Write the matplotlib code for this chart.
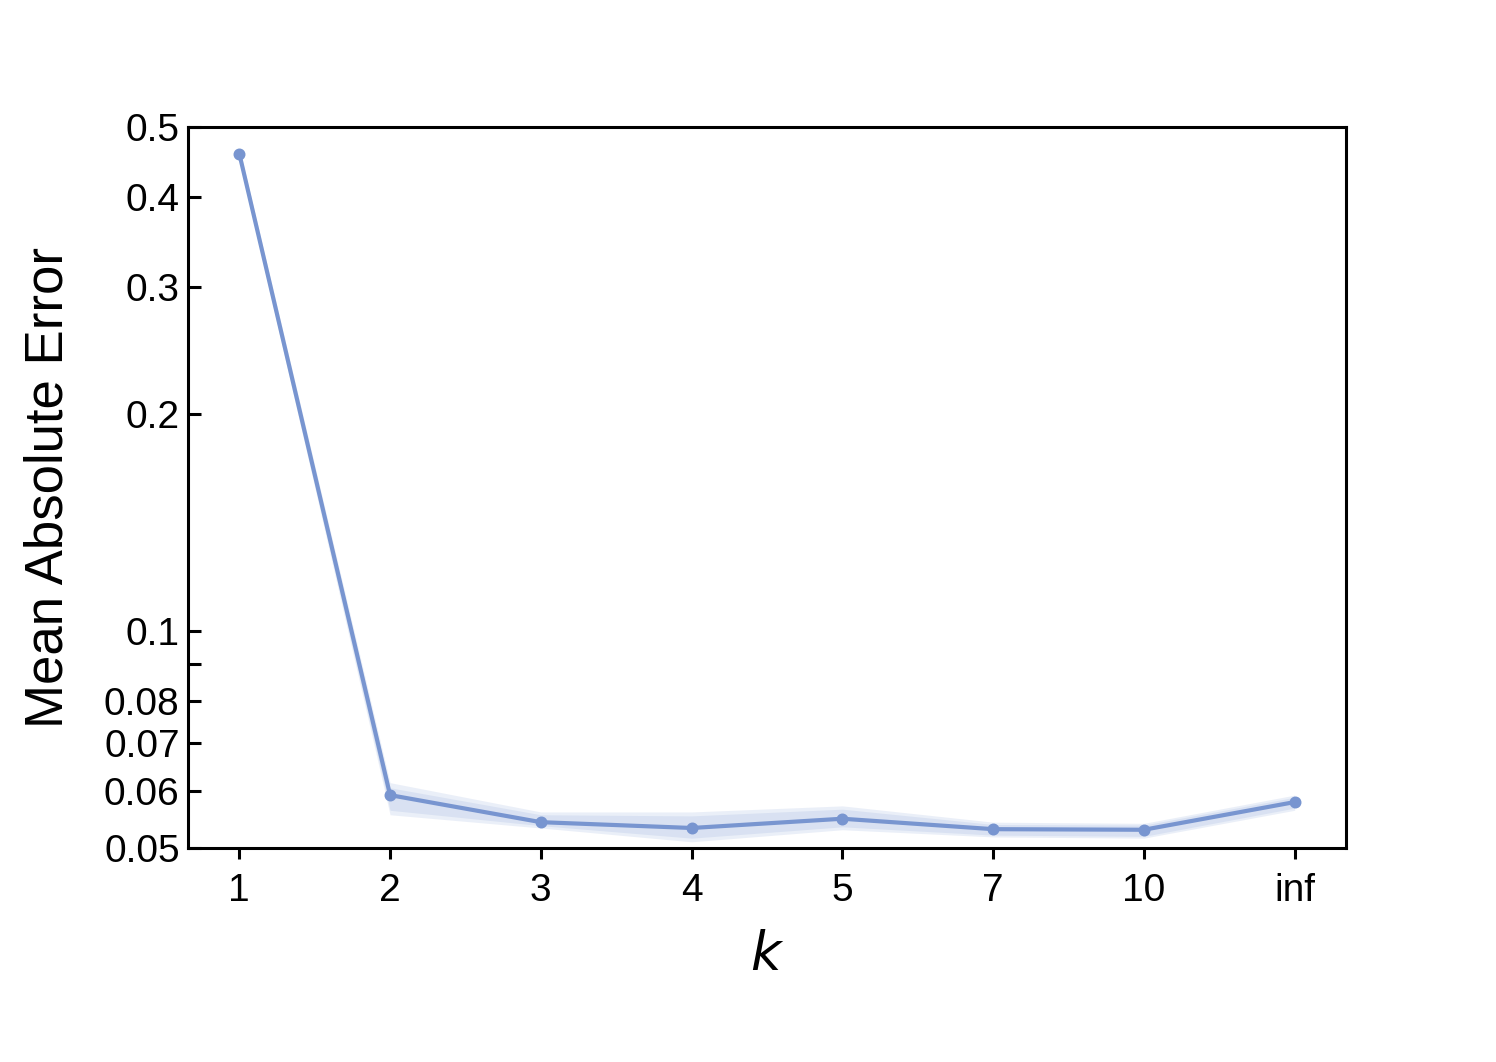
import matplotlib
matplotlib.use("Agg")
import matplotlib.pyplot as plt
from matplotlib.ticker import FixedLocator, NullFormatter
import numpy as np

plt.rcParams['font.family'] = ['Liberation Sans', 'DejaVu Sans']

# data
k_labels = ['1', '2', '3', '4', '5', '7', '10', 'inf']
mae = [0.459, 0.0592, 0.0543, 0.0533, 0.0549, 0.0531, 0.0530, 0.0579]
outer_lo = [0.450, 0.0556, 0.0533, 0.0510, 0.0530, 0.0518, 0.0516, 0.0564]
outer_hi = [0.468, 0.0616, 0.0561, 0.0561, 0.0572, 0.0543, 0.0541, 0.0592]
inner_lo = [0.454, 0.0564, 0.0537, 0.0516, 0.0535, 0.0521, 0.0519, 0.0568]
inner_hi = [0.464, 0.0606, 0.0556, 0.0554, 0.0566, 0.0539, 0.0538, 0.0588]

y_major = [0.05, 0.06, 0.07, 0.08, 0.1, 0.2, 0.3, 0.4, 0.5]
y_minor = [0.09]

color = '#7895d0'
x = np.arange(len(k_labels))

fig = plt.figure(figsize=(7.48, 5.31), dpi=200)
ax = fig.add_axes([0.1257, 0.2015, 0.774, 0.679])

ax.fill_between(x, outer_lo, outer_hi, color=color, alpha=0.15, linewidth=0)
ax.fill_between(x, inner_lo, inner_hi, color=color, alpha=0.15, linewidth=0)
ax.plot(x, mae, color=color, linewidth=1.5, marker='o', markersize=3.3)

ax.set_yscale('log')
ax.set_ylim(0.05, 0.5)
ax.yaxis.set_major_locator(FixedLocator(y_major))
ax.yaxis.set_minor_locator(FixedLocator(y_minor))
ax.yaxis.set_minor_formatter(NullFormatter())
ax.set_yticklabels([f'{v:g}' for v in y_major])

ax.set_xlim(-0.34, len(k_labels) - 1 + 0.34)
ax.set_xticks(x)
ax.set_xticklabels(k_labels)

for s in ax.spines.values():
    s.set_linewidth(1.1)

ax.tick_params(axis='y', which='both', direction='in', length=4.5, width=1.1, labelsize=14, pad=3)
ax.tick_params(axis='x', direction='out', length=4, width=1.1, labelsize=14, pad=5)

ax.set_ylabel('Mean Absolute Error', fontsize=19, labelpad=11)
ax.set_xlabel('$k$', fontsize=19, labelpad=8)

fig.savefig('out.png', dpi=200)
